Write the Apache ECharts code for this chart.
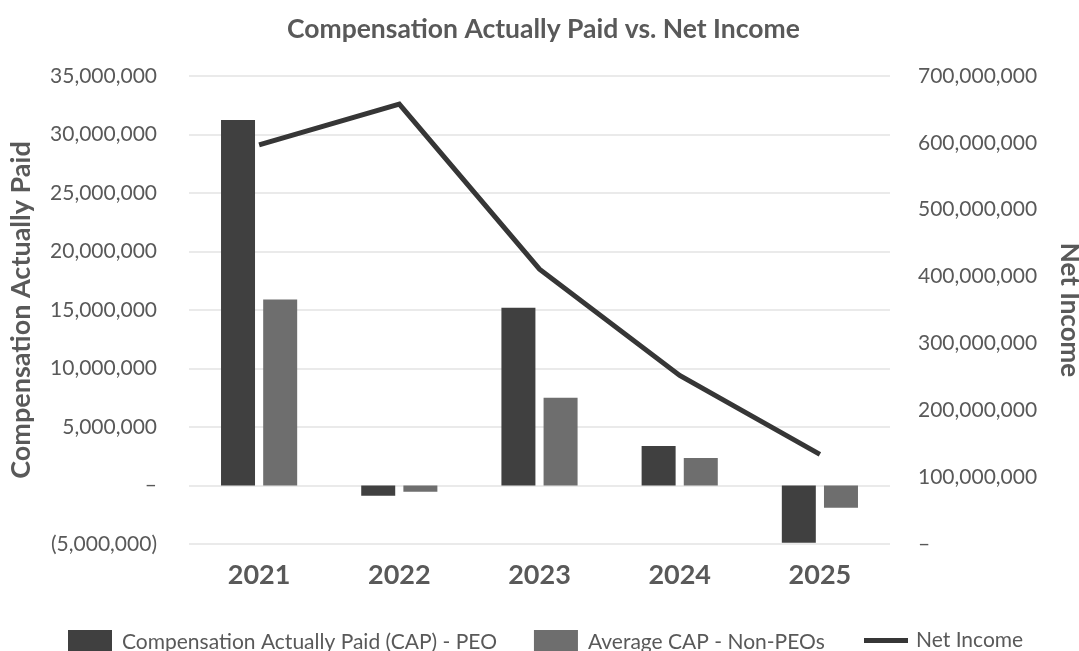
<!DOCTYPE html>
<html>
<head>
<meta charset="utf-8">
<script src="https://cdn.jsdelivr.net/npm/echarts@6/dist/echarts.min.js"></script>
<style>
  html, body { margin: 0; padding: 0; background: #fff; }
  #main { width: 1079px; height: 651px; }
</style>
</head>
<body>
<div id="main"></div>
<script>
// chart data
var years = ['2021', '2022', '2023', '2024', '2025']
var capPeo = [31250000, -880000, 15200000, 3370000, -4900000]
var capNonPeo = [15900000, -540000, 7500000, 2340000, -1910000]
var netIncome = [597000000, 658000000, 411000000, 252000000, 134000000]

var textColor = '#595959'
var fontFamily = 'Lato, "Open Sans", sans-serif'

function withCommas(v) {
  return String(Math.round(v)).replace(/\B(?=(\d{3})+(?!\d))/g, ',')
}
function acctFormat(v) {
  if (v === 0) return '\u2013'
  if (v < 0) return '(' + withCommas(-v) + ')'
  return withCommas(v)
}

var chart = echarts.init(document.getElementById('main'), null, { renderer: 'canvas' })

var option = {
  backgroundColor: '#ffffff',
  animation: false,
  textStyle: { fontFamily: fontFamily },
  title: {
    text: 'Compensation Actually Paid vs. Net Income',
    left: 282,
    top: 11,
    textStyle: { fontFamily: fontFamily, fontSize: 26.5, fontWeight: 'bold', color: textColor }
  },
  legend: [{
    data: ['Compensation Actually Paid (CAP) - PEO', 'Average CAP - Non-PEOs'],
    left: 63,
    top: 625,
    icon: 'rect',
    itemWidth: 44,
    itemHeight: 24,
    itemGap: 37,
    textStyle: { fontFamily: fontFamily, fontSize: 21, color: textColor, padding: [0, 0, 0, 5] }
  }, {
    data: ['Net Income'],
    left: 859,
    top: 625,
    icon: 'rect',
    itemWidth: 44,
    itemHeight: 5,
    textStyle: { fontFamily: fontFamily, fontSize: 21, color: textColor, padding: [0, 0, 0, 3] }
  }],
  grid: {
    left: 189,
    right: 189,
    top: 76,
    bottom: 107,
    outerBoundsMode: 'none'
  },
  xAxis: {
    type: 'category',
    data: years,
    axisLine: { show: false },
    axisTick: { show: false },
    axisLabel: {
      margin: 18,
      fontFamily: fontFamily,
      fontSize: 27,
      fontWeight: 'bold',
      color: textColor
    }
  },
  yAxis: [{
    type: 'value',
    min: -5000000,
    max: 35000000,
    interval: 5000000,
    name: 'Compensation Actually Paid',
    nameLocation: 'middle',
    nameGap: 154,
    nameTextStyle: { fontFamily: fontFamily, fontSize: 27, fontWeight: 'bold', color: textColor },
    axisLine: { show: false },
    axisTick: { show: false },
    axisLabel: {
      margin: 32,
      fontFamily: fontFamily,
      fontSize: 21,
      color: textColor,
      formatter: acctFormat
    },
    splitLine: { lineStyle: { color: '#e3e3e3', width: 1.5 } }
  }, {
    type: 'value',
    min: 0,
    max: 700000000,
    interval: 100000000,
    name: 'Net Income',
    nameLocation: 'middle',
    nameRotate: -90,
    nameGap: 166,
    nameTextStyle: { fontFamily: fontFamily, fontSize: 26, fontWeight: 'bold', color: textColor },
    axisLine: { show: false },
    axisTick: { show: false },
    axisLabel: {
      margin: 28,
      fontFamily: fontFamily,
      fontSize: 21,
      color: textColor,
      formatter: acctFormat
    },
    splitLine: { show: false }
  }],
  series: [{
    name: 'Compensation Actually Paid (CAP) - PEO',
    type: 'bar',
    data: capPeo,
    barWidth: 34,
    barGap: '24%',
    itemStyle: { color: '#404040' }
  }, {
    name: 'Average CAP - Non-PEOs',
    type: 'bar',
    data: capNonPeo,
    barWidth: 34,
    itemStyle: { color: '#6e6e6e' }
  }, {
    name: 'Net Income',
    type: 'line',
    yAxisIndex: 1,
    data: netIncome,
    showSymbol: false,
    symbol: 'none',
    lineStyle: { color: '#363636', width: 5, cap: 'butt', join: 'miter' },
    itemStyle: { color: '#363636' }
  }]
}

chart.setOption(option)
</script>
</body>
</html>
